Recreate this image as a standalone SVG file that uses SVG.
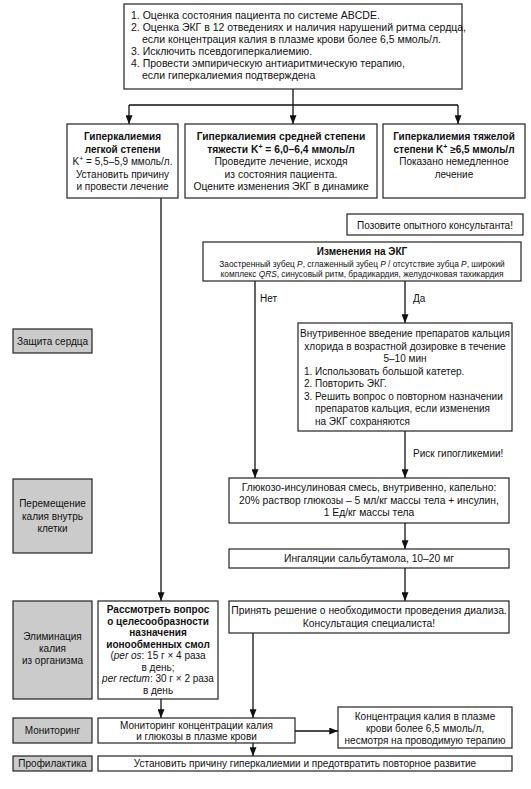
<svg xmlns="http://www.w3.org/2000/svg" width="531" height="789" viewBox="0 0 531 789">
<style>
text{font-family:"Liberation Sans","Noto Sans",Arial,sans-serif;font-size:10px;fill:#111}
.c{text-anchor:middle}
.b{font-weight:bold}
.s{font-size:8.3px}
.i{font-style:italic}
.t{font-size:10.5px}
.g{font-size:10.3px}
.box{fill:#fff;stroke:#222;stroke-width:1.2}
.side{fill:#cbcbcb;stroke:#222;stroke-width:1.2}
.ln{fill:none;stroke:#111;stroke-width:1.3}
.arr{fill:none;stroke:#111;stroke-width:1.3;marker-end:url(#ah)}
</style>
<defs>
<marker id="ah" viewBox="0 0 10 8" refX="10" refY="4" markerWidth="9" markerHeight="7" orient="auto" markerUnits="userSpaceOnUse">
<path d="M0,0 L10,4 L0,8 Z" fill="#111"/>
</marker>
</defs>
<rect width="531" height="789" fill="#fff"/>

<g id="connectors">
<path class="ln" d="M293,89 V105 M129,105 H458"/>
<path class="arr" d="M129,105 V124"/>
<path class="arr" d="M293,105 V124"/>
<path class="arr" d="M458,105 V124"/>
<path class="arr" d="M161,198 V601"/>
<path class="arr" d="M255,281 V478"/>
<text x="260" y="302">Нет</text>
<path class="arr" d="M405,281 V323"/>
<text x="413" y="302">Да</text>
<path class="arr" d="M405,431 V478"/>
<text x="413" y="457">Риск гипогликемии!</text>
<path class="arr" d="M405,523 V549"/>
<path class="arr" d="M405,568 V601"/>
<path class="arr" d="M253,633 V718"/>
<path class="arr" d="M161,699 V718"/>
<path class="arr" d="M295,731 V731 H338"/>
<path class="arr" d="M253,743 V756"/>
</g>

<g id="n-start">
<rect class="box" x="124" y="4" width="338" height="85"/>
<text class="t" x="131" y="19">1. Оценка состояния пациента по системе ABCDE.</text>
<text class="t" x="131" y="31">2. Оценка ЭКГ в 12 отведениях и наличия нарушений ритма сердца,</text>
<text class="t" x="142" y="43">если концентрация калия в плазме крови более 6,5 ммоль/л.</text>
<text class="t" x="131" y="55">3. Исключить псевдогиперкалиемию.</text>
<text class="t" x="131" y="67">4. Провести эмпирическую антиаритмическую терапию,</text>
<text class="t" x="142" y="79">если гиперкалиемия подтверждена</text>
</g>

<g id="n-mild">
<rect class="box" x="67" y="124" width="111" height="74"/>
<text class="c b" x="122.5" y="140">Гиперкалиемия</text>
<text class="c b" x="122.5" y="152.5">легкой степени</text>
<text class="c" x="122.5" y="165">K<tspan font-size="7" dy="-4">+</tspan><tspan dy="4"> = 5,5–5,9 ммоль/л.</tspan></text>
<text class="c" x="122.5" y="177.5">Установить причину</text>
<text class="c" x="122.5" y="190">и провести лечение</text>
</g>

<g id="n-moderate">
<rect class="box" x="185" y="124" width="192" height="74"/>
<text class="c b g" x="281" y="140">Гиперкалиемия средней степени</text>
<text class="c b g" x="281" y="152.5">тяжести K<tspan font-size="7" dy="-4">+</tspan><tspan dy="4"> = 6,0–6,4 ммоль/л</tspan></text>
<text class="c g" x="281" y="165">Проведите лечение, исходя</text>
<text class="c g" x="281" y="177.5">из состояния пациента.</text>
<text class="c g" x="281" y="190">Оцените изменения ЭКГ в динамике</text>
</g>

<g id="n-severe">
<rect class="box" x="383" y="124" width="142" height="74"/>
<text class="c b" x="454" y="140">Гиперкалиемия тяжелой</text>
<text class="c b" x="454" y="152.5">степени K<tspan font-size="7" dy="-4">+</tspan><tspan dy="4"> ≥6,5 ммоль/л</tspan></text>
<text class="c" x="454" y="165">Показано немедленное</text>
<text class="c" x="454" y="177.5">лечение</text>
</g>

<g id="n-consult">
<rect class="box" x="347" y="214" width="176" height="21"/>
<text class="c" x="435" y="228.5">Позовите опытного консультанта!</text>
</g>

<g id="n-ecg">
<rect class="box" x="203" y="242" width="318" height="39"/>
<text class="c b" x="362" y="255">Изменения на ЭКГ</text>
<text class="c s" x="362" y="266.5">Заостренный зубец <tspan class="i">P</tspan>, сглаженный зубец <tspan class="i">P</tspan> / отсутствие зубца <tspan class="i">P</tspan>, широкий</text>
<text class="c s" x="362" y="277">комплекс <tspan class="i">QRS</tspan>, синусовый ритм, брадикардия, желудочковая тахикардия</text>
</g>

<g id="n-calcium">
<rect class="box" x="298" y="323" width="214" height="108"/>
<text class="c" x="405" y="337">Внутривенное введение препаратов кальция</text>
<text class="c" x="405" y="349.5">хлорида в возрастной дозировке в течение</text>
<text class="c" x="405" y="362">5–10 мин</text>
<text x="304" y="374.5">1. Использовать большой катетер.</text>
<text x="304" y="387">2. Повторить ЭКГ.</text>
<text x="304" y="399.5">3. Решить вопрос о повторном назначении</text>
<text x="315" y="412">препаратов кальция, если изменения</text>
<text x="315" y="424.5">на ЭКГ сохраняются</text>
</g>

<g id="n-glucose">
<rect class="box" x="229" y="478" width="280" height="45"/>
<text class="c g" x="369" y="491">Глюкозо-инсулиновая смесь, внутривенно, капельно:</text>
<text class="c g" x="369" y="503.5">20% раствор глюкозы – 5 мл/кг массы тела + инсулин,</text>
<text class="c g" x="369" y="516">1 Ед/кг массы тела</text>
</g>

<g id="n-salbutamol">
<rect class="box" x="229" y="549" width="280" height="19"/>
<text class="c g" x="369" y="562">Ингаляции сальбутамола, 10–20 мг</text>
</g>

<g id="n-dialysis">
<rect class="box" x="229" y="601" width="280" height="32"/>
<text class="c g" x="369" y="614">Принять решение о необходимости проведения диализа.</text>
<text class="c g" x="369" y="626.5">Консультация специалиста!</text>
</g>

<g id="n-resin">
<rect class="box" x="98" y="601" width="120" height="98"/>
<text class="c b" x="158" y="613">Рассмотреть вопрос</text>
<text class="c b" x="158" y="624.5">о целесообразности</text>
<text class="c b" x="158" y="636">назначения</text>
<text class="c b" x="158" y="647.5">ионообменных смол</text>
<text class="c" x="158" y="659">(<tspan class="i">per os</tspan>: 15 г × 4 раза</text>
<text class="c" x="158" y="670.5">в день;</text>
<text class="c" x="158" y="682"><tspan class="i">per rectum</tspan>: 30 г × 2 раза</text>
<text class="c" x="158" y="693.5">в день</text>
</g>

<g id="n-monitor">
<rect class="box" x="98" y="718" width="197" height="25"/>
<text class="c" x="196.5" y="728.5">Мониторинг концентрации калия</text>
<text class="c" x="196.5" y="740">и глюкозы в плазме крови</text>
</g>

<g id="n-high">
<rect class="box" x="338" y="707" width="174" height="41"/>
<text class="c" x="425" y="719.5">Концентрация калия в плазме</text>
<text class="c" x="425" y="731.5">крови более 6,5 ммоль/л,</text>
<text class="c" x="425" y="743.5">несмотря на проводимую терапию</text>
</g>

<g id="n-prevent">
<rect class="box" x="98" y="756" width="414" height="15"/>
<text class="c" x="305" y="767">Установить причину гиперкалиемии и предотвратить повторное развитие</text>
</g>

<g id="s-heart">
<rect class="side" x="13" y="329" width="79" height="24"/>
<text class="c" x="52.5" y="344.5">Защита сердца</text>
</g>
<g id="s-shift">
<rect class="side" x="13" y="479" width="79" height="74"/>
<text class="c" x="52.5" y="507">Перемещение</text>
<text class="c" x="52.5" y="519.5">калия внутрь</text>
<text class="c" x="52.5" y="532">клетки</text>
</g>
<g id="s-elim">
<rect class="side" x="13" y="601" width="79" height="98"/>
<text class="c" x="52.5" y="640">Элиминация</text>
<text class="c" x="52.5" y="652">калия</text>
<text class="c" x="52.5" y="664">из организма</text>
</g>
<g id="s-monitor">
<rect class="side" x="13" y="718" width="79" height="25"/>
<text class="c" x="52.5" y="734">Мониторинг</text>
</g>
<g id="s-prevent">
<rect class="side" x="13" y="756" width="79" height="15"/>
<text class="c" x="52.5" y="767">Профилактика</text>
</g>
</svg>
